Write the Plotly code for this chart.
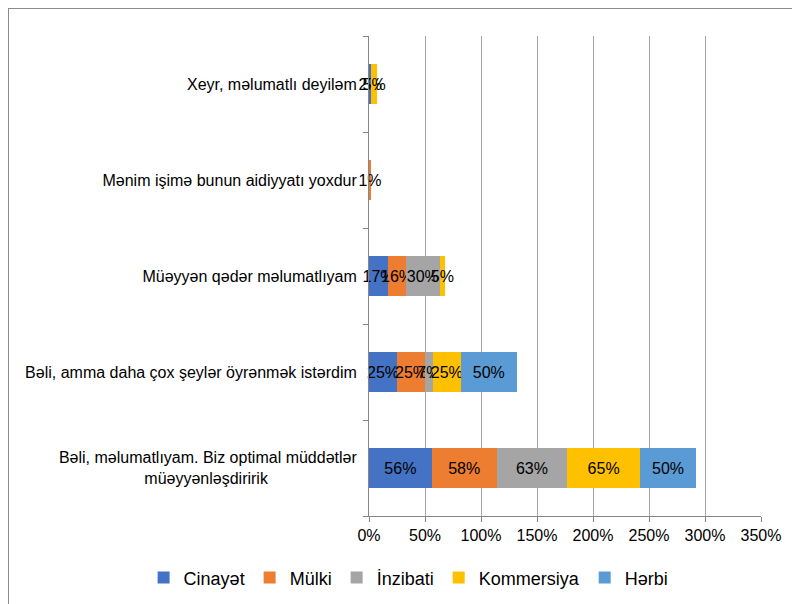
import plotly.graph_objects as go

NB = "\u00a0"
categories = [
    "Bəli, məlumatlıyam. Biz optimal müddətlər<br>müəyyənləşdiririk" + NB * 20,
    "Bəli, amma daha çox şeylər öyrənmək istərdim",
    "Müəyyən qədər məlumatlıyam",
    "Mənim işimə bunun aidiyyatı yoxdur",
    "Xeyr, məlumatlı deyiləm",
]
series_names = ["Cinayət", "Mülki", "İnzibati", "Kommersiya", "Hərbi"]
cinayet = [0.56, 0.25, 0.17, 0, 0.02]
mulki = [0.58, 0.25, 0.16, 0.01, 0]
inzibati = [0.63, 0.07, 0.30, 0, 0]
kommersiya = [0.65, 0.25, 0.05, 0, 0.05]
herbi = [0.50, 0.50, 0, 0, 0]
colors = ["#4472C4", "#ED7D31", "#A5A5A5", "#FFC000", "#5B9BD5"]
tick_vals = [0, 0.5, 1.0, 1.5, 2.0, 2.5, 3.0, 3.5]
tick_text = ["0%", "50%", "100%", "150%", "200%", "250%", "300%", "350%"]

FONT = "Liberation Sans, Arial"
L, R, T, B = 361, 47, 28, 96
PW, PH = 800 - L - R, 604 - T - B

fig = go.Figure()
for name, vals, col in zip(series_names, [cinayet, mulki, inzibati, kommersiya, herbi], colors):
    fig.add_trace(go.Bar(
        y=categories, x=vals, name=name, orientation="h",
        marker=dict(color=col, line=dict(width=0)),
        text=[f"{round(v*100)}%" if v > 0 else "" for v in vals],
        textposition="inside", insidetextanchor="middle", textangle=0,
        textfont=dict(color="#000000", size=16, family=FONT),
        constraintext="none", cliponaxis=False,
    ))

fig.update_layout(
    barmode="stack", bargap=0.59,
    width=800, height=604,
    margin=dict(l=L, r=R, t=T, b=B, autoexpand=False),
    paper_bgcolor="white", plot_bgcolor="white",
    font=dict(family=FONT, size=16, color="#000000"),
    showlegend=True,
    legend=dict(orientation="h", x=-0.575, xanchor="left",
                y=-0.129, yanchor="middle",
                font=dict(size=18), traceorder="normal", itemwidth=30),
    xaxis=dict(range=[0, 3.5], tickvals=tick_vals, ticktext=tick_text,
               showgrid=True, gridcolor="#A6A6A6", gridwidth=1,
               showline=True, linecolor="#868686", ticks="outside", ticklen=5,
               tickcolor="#868686", zeroline=False, tickfont=dict(size=16)),
    yaxis=dict(categoryorder="array", categoryarray=categories,
               showline=True, linecolor="#868686", ticks="outside", ticklen=5,
               tickcolor="#868686", tickson="boundaries", showgrid=False,
               tickfont=dict(size=16), automargin=False, ticklabelstandoff=8),
    shapes=[
        dict(type="line", xref="paper", yref="paper", x0=-L / PW, x1=1 + R / PW,
             y0=1 + T / PH, y1=1 + T / PH, line=dict(color="#8C8C8C", width=2)),
        dict(type="line", xref="paper", yref="paper", x0=-L / PW, x1=-L / PW,
             y0=1 + T / PH, y1=-B / PH, line=dict(color="#8C8C8C", width=2)),
    ],
)
fig.write_html("out.html")
